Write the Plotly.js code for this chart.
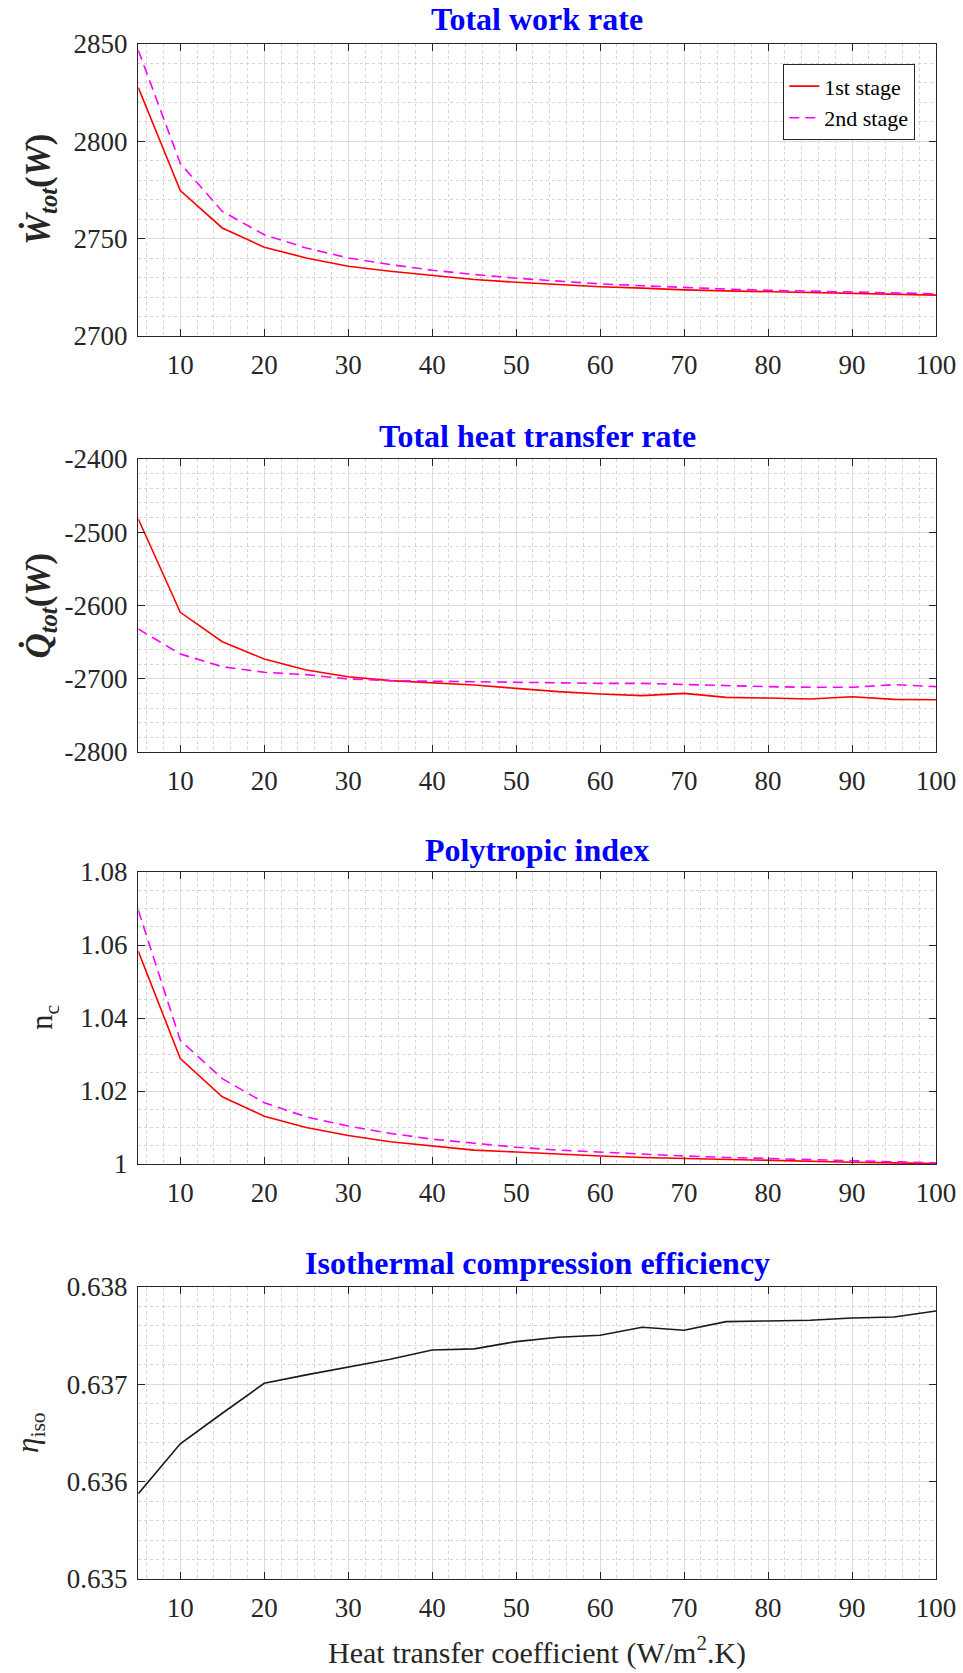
<!DOCTYPE html>
<html>
<head>
<meta charset="utf-8">
<script src="https://cdn.plot.ly/plotly-3.0.1.min.js"></script>
<style>
  html, body { margin: 0; padding: 0; background: #ffffff; }
  #chart { width: 963px; height: 1673px; }
</style>
</head>
<body>
<div id="chart"></div>
<script>
// ---- data ----
const hCoef = [5, 10, 15, 20, 25, 30, 35, 40, 45, 50, 55, 60, 65, 70, 75, 80, 85, 90, 95, 100];

const workStage1 = [2827.6, 2774.7, 2755.5, 2745.6, 2740.1, 2735.8, 2733.3, 2731.1, 2729.0, 2727.6,
                    2726.5, 2725.3, 2724.6, 2723.7, 2723.2, 2722.7, 2722.2, 2721.8, 2721.5, 2721.0];
const workStage2 = [2846.8, 2788.7, 2764.0, 2752.0, 2745.2, 2740.1, 2736.7, 2733.8, 2731.6, 2729.7,
                    2728.2, 2726.8, 2725.8, 2724.9, 2724.1, 2723.5, 2723.0, 2722.5, 2722.2, 2721.7];

const heatStage1 = [-2481.9, -2609.3, -2649.4, -2673.0, -2688.1, -2697.2, -2702.6, -2705.8, -2708.5, -2713.1,
                    -2717.6, -2720.8, -2723.1, -2719.9, -2725.4, -2726.3, -2727.6, -2724.5, -2728.1, -2728.6];
const heatStage2 = [-2632.1, -2666.2, -2683.5, -2691.2, -2694.4, -2700.3, -2702.6, -2703.5, -2704.0, -2704.9,
                    -2705.8, -2706.3, -2706.3, -2708.1, -2709.9, -2710.8, -2711.7, -2711.7, -2708.1, -2710.8];

const polyStage1 = [1.0583, 1.0289, 1.0184, 1.0131, 1.0100, 1.0078, 1.0061, 1.0049, 1.0038, 1.0033,
                    1.0027, 1.0022, 1.0018, 1.0015, 1.0012, 1.0009, 1.0006, 1.0005, 1.0003, 1.0001];
const polyStage2 = [1.0695, 1.0339, 1.0234, 1.0168, 1.0129, 1.0104, 1.0084, 1.0068, 1.0057, 1.0046,
                    1.0038, 1.0032, 1.0027, 1.0022, 1.0018, 1.0015, 1.0011, 1.0007, 1.0005, 1.0003];

const isoEff = [0.635876, 0.636389, 0.636703, 0.637011, 0.637097, 0.637176, 0.637258, 0.637353, 0.637364, 0.637439,
                0.637483, 0.637504, 0.637586, 0.637555, 0.637644, 0.637651, 0.637658, 0.637682, 0.637692, 0.637754];

const seriesNames = ["1st stage", "2nd stage"];
const panelTitles = ["Total work rate", "Total heat transfer rate", "Polytropic index", "Isothermal compression efficiency"];
const yTitles = [
  "<b><i>Ẇ</i></b><sub><b><i>tot</i></b></sub><b>(<i>W</i>)</b>",
  "<b><i>Q̇</i></b><sub><b><i>tot</i></b></sub><b>(<i>W</i>)</b>",
  "n<sub>c</sub>",
  "<i>η</i><sub>iso</sub>"
];
const xTitle = "Heat transfer coefficient (W/m<sup>2</sup>.K)";

const xTickVals = [10, 20, 30, 40, 50, 60, 70, 80, 90, 100];
const xTickText = ["10", "20", "30", "40", "50", "60", "70", "80", "90", "100"];

const y1TickVals = [2700, 2750, 2800, 2850];
const y1TickText = ["2700", "2750", "2800", "2850"];
const y2TickVals = [-2800, -2700, -2600, -2500, -2400];
const y2TickText = ["-2800", "-2700", "-2600", "-2500", "-2400"];
const y3TickVals = [1, 1.02, 1.04, 1.06, 1.08];
const y3TickText = ["1", "1.02", "1.04", "1.06", "1.08"];
const y4TickVals = [0.635, 0.636, 0.637, 0.638];
const y4TickText = ["0.635", "0.636", "0.637", "0.638"];

// ---- styling ----
const FONT = "Liberation Serif, Times New Roman, serif";
const AXC = "#262626";
const red = "#ff0000", magenta = "#ff00ff", black = "#1a1a1a";
const W = 963, H = 1673;
const xDom = [138.3 / W, 936 / W];
const px2y = p => 1 - p / H;
const yDoms = [[px2y(336), px2y(44)], [px2y(752), px2y(459)], [px2y(1164), px2y(872)], [px2y(1579), px2y(1287)]];

function xaxis(anchor) {
  return {
    domain: xDom, anchor: anchor, range: [5, 100],
    tickmode: "array", tickvals: xTickVals, ticktext: xTickText,
    ticks: "inside", ticklen: 7, tickwidth: 1, tickcolor: AXC,
    showline: true, linecolor: AXC, linewidth: 1.3, mirror: "ticks",
    showgrid: true, gridcolor: "#dcdcdc", gridwidth: 1,
    minor: { tickmode: "linear", tick0: 0, dtick: 2, showgrid: true, gridcolor: "#d4d4d4", griddash: "dot", gridwidth: 1, ticks: "" },
    tickfont: { family: FONT, size: 27, color: AXC },
    ticklabelstandoff: 4,
    zeroline: false, fixedrange: true
  };
}
function yaxis(anchor, dom, range, tv, tt, mdt) {
  return {
    domain: dom, anchor: anchor, range: range,
    tickmode: "array", tickvals: tv, ticktext: tt,
    ticks: "inside", ticklen: 7, tickwidth: 1, tickcolor: AXC,
    showline: true, linecolor: AXC, linewidth: 1.3, mirror: "ticks",
    showgrid: true, gridcolor: "#dcdcdc", gridwidth: 1,
    minor: { tickmode: "linear", tick0: range[0], dtick: mdt, showgrid: true, gridcolor: "#d4d4d4", griddash: "dot", gridwidth: 1, ticks: "" },
    tickfont: { family: FONT, size: 27, color: AXC },
    ticklabelstandoff: 4,
    zeroline: false, fixedrange: true
  };
}

const lw = 1.6;
const dashPat = "10px,6px";
const traces = [
  { x: hCoef, y: workStage1, name: seriesNames[0], type: "scatter", mode: "lines", xaxis: "x", yaxis: "y", line: { color: red, width: lw }, showlegend: true },
  { x: hCoef, y: workStage2, name: seriesNames[1], type: "scatter", mode: "lines", xaxis: "x", yaxis: "y", line: { color: magenta, width: lw, dash: dashPat }, showlegend: true },
  { x: hCoef, y: heatStage1, name: seriesNames[0], type: "scatter", mode: "lines", xaxis: "x2", yaxis: "y2", line: { color: red, width: lw }, showlegend: false },
  { x: hCoef, y: heatStage2, name: seriesNames[1], type: "scatter", mode: "lines", xaxis: "x2", yaxis: "y2", line: { color: magenta, width: lw, dash: dashPat }, showlegend: false },
  { x: hCoef, y: polyStage1, name: seriesNames[0], type: "scatter", mode: "lines", xaxis: "x3", yaxis: "y3", line: { color: red, width: lw }, showlegend: false },
  { x: hCoef, y: polyStage2, name: seriesNames[1], type: "scatter", mode: "lines", xaxis: "x3", yaxis: "y3", line: { color: magenta, width: lw, dash: dashPat }, showlegend: false },
  { x: hCoef, y: isoEff, name: "η iso", type: "scatter", mode: "lines", xaxis: "x4", yaxis: "y4", line: { color: black, width: lw }, showlegend: false }
];

const xMid = (xDom[0] + xDom[1]) / 2;
const titleY = [19, 436, 850, 1263];
const yTitleX = [40, 40, 44, 30];
const yTitleSize = [35, 35, 31, 31];
const annotations = [];
panelTitles.forEach((t, i) => {
  annotations.push({
    text: "<b>" + t + "</b>", xref: "paper", yref: "paper", x: xMid, y: px2y(titleY[i]),
    xanchor: "center", yanchor: "middle", showarrow: false,
    font: { family: FONT, size: 32, color: "#0000ff" }
  });
});
yTitles.forEach((t, i) => {
  annotations.push({
    text: t, xref: "paper", yref: "paper", x: yTitleX[i] / W, y: (yDoms[i][0] + yDoms[i][1]) / 2,
    xanchor: "center", yanchor: "middle", textangle: -90, showarrow: false,
    font: { family: FONT, size: yTitleSize[i], color: AXC }
  });
});
annotations.push({
  text: xTitle, xref: "paper", yref: "paper", x: xMid, y: 0,
  xanchor: "center", yanchor: "bottom", yshift: 1, showarrow: false,
  font: { family: FONT, size: 30, color: AXC }
});

const layout = {
  width: W, height: H,
  margin: { l: 0, r: 0, t: 0, b: 0, pad: 0 },
  paper_bgcolor: "#ffffff", plot_bgcolor: "#ffffff",
  font: { family: FONT, size: 27, color: AXC },
  showlegend: true,
  legend: {
    x: 915 / W, y: px2y(64), xanchor: "right", yanchor: "top",
    bgcolor: "#ffffff", bordercolor: "#262626", borderwidth: 1.3,
    font: { family: FONT, size: 22, color: "#000000" },
    tracegroupgap: 0
  },
  xaxis: xaxis("y"), yaxis: yaxis("x", yDoms[0], [2700, 2850], y1TickVals, y1TickText, 10),
  xaxis2: xaxis("y2"), yaxis2: yaxis("x2", yDoms[1], [-2800, -2400], y2TickVals, y2TickText, 20),
  xaxis3: xaxis("y3"), yaxis3: yaxis("x3", yDoms[2], [1, 1.08], y3TickVals, y3TickText, 0.005),
  xaxis4: xaxis("y4"), yaxis4: yaxis("x4", yDoms[3], [0.635, 0.638], y4TickVals, y4TickText, 0.0002),
  annotations: annotations
};

Plotly.newPlot("chart", traces, layout, { displayModeBar: false, staticPlot: true });
</script>
</body>
</html>
